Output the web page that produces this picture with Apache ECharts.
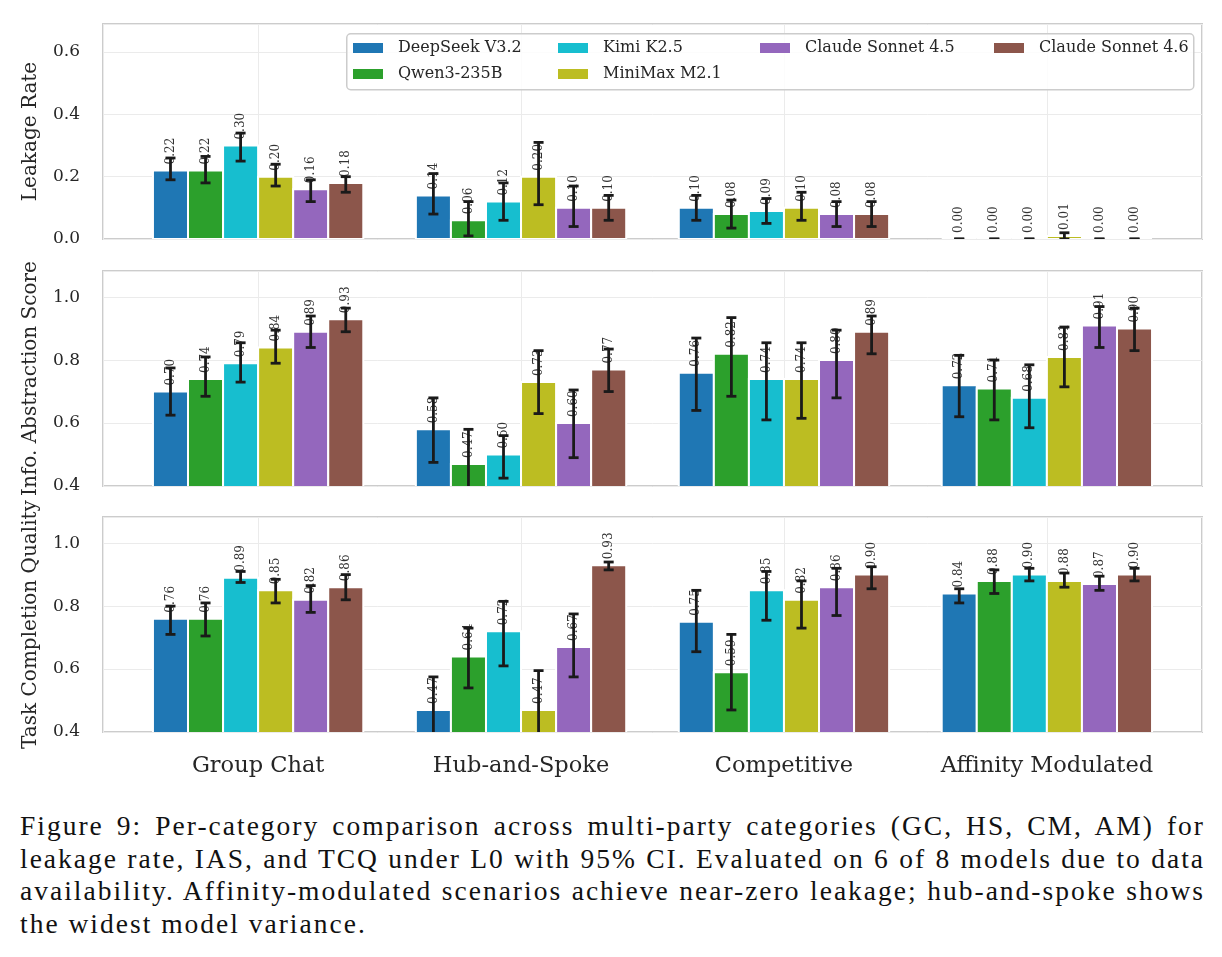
<!DOCTYPE html>
<html>
<head>
<meta charset="utf-8">
<script src="https://cdn.jsdelivr.net/npm/echarts@6/dist/echarts.min.js"></script>
<style>
  body { margin: 0; background: #fff; }
  #chart { position: absolute; left: 0; top: 0; width: 1222px; height: 800px; }
  #caption {
    position: absolute; left: 20px; top: 810px; width: 1185px;
    font-family: "Liberation Serif", serif; font-size: 27.5px; line-height: 32.5px; color: #111;
    letter-spacing: 2px;
  }
  #caption div { text-align: justify; text-align-last: justify; white-space: nowrap; }
  #caption div.last { text-align-last: left; }
</style>
</head>
<body>
<div id="chart"></div>
<div id="caption">
  <div>Figure 9: Per-category comparison across multi-party categories (GC, HS, CM, AM) for</div>
  <div>leakage rate, IAS, and TCQ under L0 with 95% CI. Evaluated on 6 of 8 models due to data</div>
  <div>availability. Affinity-modulated scenarios achieve near-zero leakage; hub-and-spoke shows</div>
  <div class="last">the widest model variance.</div>
</div>
<script>
const categories = ['Group Chat', 'Hub-and-Spoke', 'Competitive', 'Affinity Modulated'];
const models = ['DeepSeek V3.2', 'Qwen3-235B', 'Kimi K2.5', 'MiniMax M2.1', 'Claude Sonnet 4.5', 'Claude Sonnet 4.6'];
const colors = ['#1f77b4', '#2ca02c', '#17becf', '#bcbd22', '#9467bd', '#8c564b'];

// rows = models, cols = categories
const leakMean = [
  [0.22, 0.14, 0.10, 0.00],
  [0.22, 0.06, 0.08, 0.00],
  [0.30, 0.12, 0.09, 0.00],
  [0.20, 0.20, 0.10, 0.01],
  [0.16, 0.10, 0.08, 0.00],
  [0.18, 0.10, 0.08, 0.00]
];
const leakLo = [
  [0.19, 0.08, 0.06, 0.00],
  [0.18, 0.01, 0.035, 0.00],
  [0.25, 0.06, 0.05, 0.00],
  [0.17, 0.11, 0.06, 0.00],
  [0.12, 0.04, 0.04, 0.00],
  [0.15, 0.06, 0.04, 0.00]
];
const leakHi = [
  [0.26, 0.21, 0.14, 0.00],
  [0.265, 0.12, 0.125, 0.00],
  [0.34, 0.18, 0.13, 0.00],
  [0.24, 0.31, 0.15, 0.02],
  [0.19, 0.17, 0.12, 0.00],
  [0.20, 0.14, 0.12, 0.00]
];

const iasMean = [
  [0.70, 0.58, 0.76, 0.72],
  [0.74, 0.47, 0.82, 0.71],
  [0.79, 0.50, 0.74, 0.68],
  [0.84, 0.73, 0.74, 0.81],
  [0.89, 0.60, 0.80, 0.91],
  [0.93, 0.77, 0.89, 0.90]
];
const iasLo = [
  [0.625, 0.475, 0.64, 0.62],
  [0.685, 0.37, 0.685, 0.61],
  [0.73, 0.425, 0.61, 0.585],
  [0.79, 0.63, 0.615, 0.715],
  [0.84, 0.49, 0.68, 0.84],
  [0.89, 0.70, 0.82, 0.83]
];
const iasHi = [
  [0.775, 0.68, 0.87, 0.815],
  [0.81, 0.58, 0.935, 0.80],
  [0.855, 0.56, 0.855, 0.785],
  [0.895, 0.83, 0.855, 0.905],
  [0.94, 0.705, 0.895, 0.97],
  [0.965, 0.835, 0.94, 0.965]
];

const tcqMean = [
  [0.76, 0.47, 0.75, 0.84],
  [0.76, 0.64, 0.59, 0.88],
  [0.89, 0.72, 0.85, 0.90],
  [0.85, 0.47, 0.82, 0.88],
  [0.82, 0.67, 0.86, 0.87],
  [0.86, 0.93, 0.90, 0.90]
];
const tcqLo = [
  [0.71, 0.35, 0.655, 0.81],
  [0.705, 0.54, 0.47, 0.84],
  [0.875, 0.61, 0.755, 0.88],
  [0.81, 0.34, 0.73, 0.86],
  [0.78, 0.575, 0.77, 0.85],
  [0.82, 0.915, 0.855, 0.88]
];
const tcqHi = [
  [0.80, 0.575, 0.85, 0.855],
  [0.81, 0.73, 0.71, 0.915],
  [0.91, 0.815, 0.91, 0.92],
  [0.885, 0.595, 0.88, 0.905],
  [0.865, 0.775, 0.92, 0.895],
  [0.90, 0.94, 0.925, 0.92]
];

const metricNames = ['Leakage Rate', 'Info. Abstraction Score', 'Task Completion Quality'];
const yTicksMin = [0, 0.4, 0.4];
const yMax = [0.69, 1.083, 1.083];

const FONT = 'DejaVu Serif';
const TXT = '#262626';
const BW = 0.8 / 6;

function makeSeries(k, mean, lo, hi) {
  return models.map(function (name, m) {
    return {
      name: name,
      type: 'custom',
      xAxisIndex: k,
      yAxisIndex: k,
      clip: true,
      itemStyle: { color: colors[m] },
      data: categories.map(function (c, i) { return [i, mean[m][i], lo[m][i], hi[m][i]]; }),
      renderItem: function (params, api) {
        const xc = api.value(0) + (m - 2.5) * BW;
        const v = api.value(1);
        const a = api.coord([xc - BW / 2, v]);
        const b = api.coord([xc + BW / 2, 0]);
        const t = api.coord([xc, v]);
        const pl = api.coord([xc, api.value(2)]);
        const ph = api.coord([xc, api.value(3)]);
        const errStyle = { stroke: '#1a1a1a', lineWidth: 2.8 };
        return {
          type: 'group',
          children: [
            { type: 'rect', shape: { x: a[0], y: a[1], width: b[0] - a[0], height: b[1] - a[1] },
              style: { fill: api.visual('color'), stroke: '#ffffff', lineWidth: 2 } },
            { type: 'text', x: t[0], y: t[1] - 6, rotation: Math.PI / 2,
              style: { text: v.toFixed(2), fontFamily: FONT, fontSize: 12, fill: '#333333', align: 'left', verticalAlign: 'middle' } },
            { type: 'line', shape: { x1: pl[0], y1: pl[1], x2: ph[0], y2: ph[1] }, style: errStyle },
            { type: 'line', shape: { x1: pl[0] - 5, y1: pl[1], x2: pl[0] + 5, y2: pl[1] }, style: errStyle },
            { type: 'line', shape: { x1: ph[0] - 5, y1: ph[1], x2: ph[0] + 5, y2: ph[1] }, style: errStyle }
          ]
        };
      }
    };
  });
}

const tops = [24, 271, 517];
const grids = tops.map(function (t) {
  return { left: 103, top: t, width: 1099, height: 215, show: true, borderColor: '#cccccc', borderWidth: 2, backgroundColor: '#ffffff' };
});

const xAxes = tops.map(function (t, k) {
  return {
    type: 'value', gridIndex: k, min: -0.59, max: 3.59, splitNumber: 4,
    axisLine: { show: false }, axisTick: { show: false },
    splitLine: { show: true, lineStyle: { color: '#ebebeb', width: 1 } },
    axisLabel: {
      show: k === 2, margin: 23, fontFamily: FONT, fontSize: 22.5, color: TXT,
      formatter: function (v) {
        const i = Math.round(v);
        return Math.abs(v - i) < 1e-6 && i >= 0 && i < categories.length ? categories[i] : '';
      }
    }
  };
});

const yAxes = tops.map(function (t, k) {
  return {
    type: 'value', gridIndex: k, min: yTicksMin[k], max: yMax[k], interval: 0.2,
    name: metricNames[k], nameLocation: 'middle', nameGap: 62,
    nameTextStyle: { fontFamily: FONT, fontSize: 20, color: TXT },
    axisLine: { show: false }, axisTick: { show: false },
    splitLine: { show: true, lineStyle: { color: '#ebebeb', width: 1 } },
    axisLabel: {
      margin: 23, fontFamily: FONT, fontSize: 17, color: TXT,
      formatter: function (v) {
        return Math.abs(v * 5 - Math.round(v * 5)) < 1e-6 ? v.toFixed(1) : '';
      }
    }
  };
});

function legendCol(left, names) {
  return {
    orient: 'vertical', left: left, top: 40, padding: 0,
    itemWidth: 30, itemHeight: 10, itemGap: 10, icon: 'rect',
    textStyle: { fontFamily: FONT, fontSize: 16, lineHeight: 16, color: TXT, padding: [0, 0, 0, 10] },
    selectedMode: false,
    data: names
  };
}

const chart = echarts.init(document.getElementById('chart'), null, { renderer: 'canvas' });
chart.setOption({
  animation: false,
  grid: grids,
  xAxis: xAxes,
  yAxis: yAxes,
  legend: [
    legendCol(353, [models[0], models[1]]),
    legendCol(558, [models[2], models[3]]),
    legendCol(760, [models[4]]),
    legendCol(994, [models[5]])
  ],
  graphic: [{
    type: 'rect', left: 346, top: 33, z: 3,
    shape: { width: 847, height: 56, r: 4 },
    style: { fill: 'rgba(255,255,255,0.85)', stroke: '#cccccc', lineWidth: 1.5 }
  }],
  series: [].concat(
    makeSeries(0, leakMean, leakLo, leakHi),
    makeSeries(1, iasMean, iasLo, iasHi),
    makeSeries(2, tcqMean, tcqLo, tcqHi)
  )
});
</script>
</body>
</html>
